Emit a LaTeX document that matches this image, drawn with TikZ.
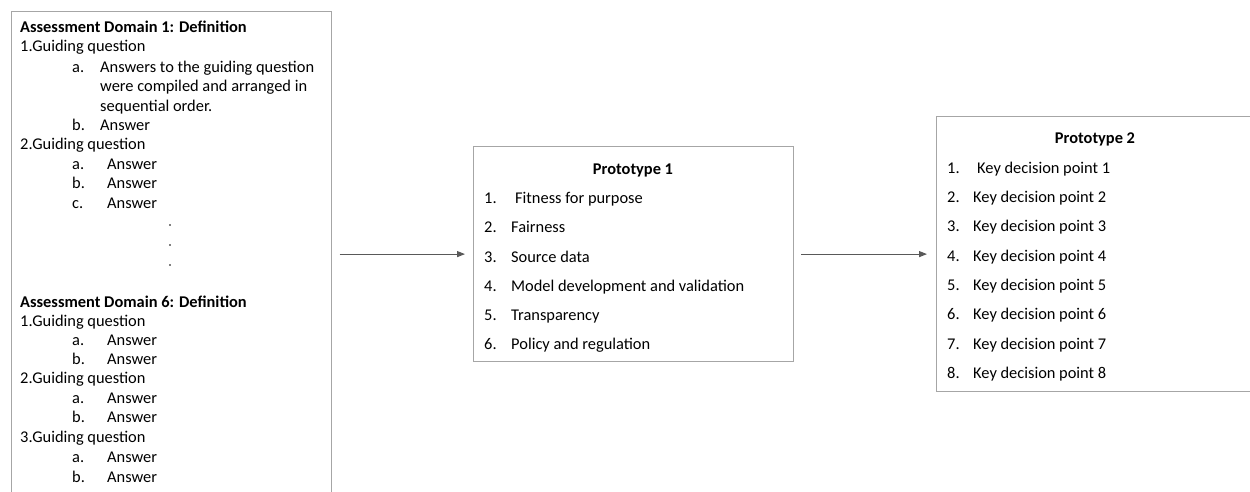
\documentclass[tikz,border=0pt]{standalone}
\usepackage{fontspec}
\setmainfont{Carlito}
\usetikzlibrary{arrows.meta,calc}
\definecolor{boxgray}{HTML}{A6A6A6}
\definecolor{arrgray}{HTML}{595959}
\tikzset{
  box/.style={draw=boxgray, line width=1.2pt, anchor=north west, inner sep=0pt},
  txt/.style={anchor=mid west, inner sep=0pt, yshift=-3.2pt, text=black, font=\fontsize{16.4}{19.5}\selectfont},
  head/.style={txt, font=\fontsize{16.4}{19.5}\selectfont\bfseries},
  ctitle/.style={anchor=mid, inner sep=0pt, yshift=-3.2pt, font=\fontsize{16.4}{19.5}\selectfont\bfseries},
  arr/.style={draw=arrgray, line width=1.1pt, -{Triangle[length=8pt,width=6pt]}},
  dotm/.style={circle, fill=black, inner sep=0pt, minimum size=1.8pt}
}
\begin{document}
\begin{tikzpicture}[x=1pt,y=-1pt]
\useasboundingbox (0,0) rectangle (1250,491);
\fill[white] (0,0) rectangle (1250,491);
% boxes
\node[box, minimum width=320pt, minimum height=495pt] (b1) at (10.5,11) {};
\node[box, minimum width=320pt, minimum height=215pt] (b2) at (473,146) {};
\node[box, minimum width=330pt, minimum height=275pt] (b3) at (936,116) {};
% left box text
\node[head] (h1) at (20,27) {Assessment Domain 1: Definition};
\node[txt] (g11) at (20,46) {1.Guiding question};
\node[txt] (l1a) at (72,67) {a.};
\node[txt] (t1a1) at (100,67) {Answers to the guiding question};
\node[txt] (t1a2) at (100,86) {were compiled and arranged in};
\node[txt] (t1a3) at (100,106) {sequential order.};
\node[txt] (l1b) at (72,125) {b.};
\node[txt] (t1b) at (100,125) {Answer};
\node[txt] (g12) at (20,144) {2.Guiding question};
\node[txt] (l2a) at (72,164) {a.};
\node[txt] (t2a) at (107,164) {Answer};
\node[txt] (l2b) at (72,183) {b.};
\node[txt] (t2b) at (107,183) {Answer};
\node[txt] (l2c) at (72,203) {c.};
\node[txt] (t2c) at (107,203) {Answer};
\node[dotm] (d1) at (170,225) {};
\node[dotm] (d2) at (170,245) {};
\node[dotm] (d3) at (170,265) {};
\node[head] (h6) at (20,302) {Assessment Domain 6: Definition};
\node[txt] (g61) at (20,321) {1.Guiding question};
\node[txt] (m1a) at (72,340) {a.};
\node[txt] (u1a) at (107,340) {Answer};
\node[txt] (m1b) at (72,359) {b.};
\node[txt] (u1b) at (107,359) {Answer};
\node[txt] (g62) at (20,378) {2.Guiding question};
\node[txt] (m2a) at (72,398) {a.};
\node[txt] (u2a) at (107,398) {Answer};
\node[txt] (m2b) at (72,417) {b.};
\node[txt] (u2b) at (107,417) {Answer};
\node[txt] (g63) at (20,437) {3.Guiding question};
\node[txt] (m3a) at (72,457) {a.};
\node[txt] (u3a) at (107,457) {Answer};
\node[txt] (m3b) at (72,477) {b.};
\node[txt] (u3b) at (107,477) {Answer};
% prototype 1
\node[ctitle] (p1t) at (633,169) {Prototype 1};
\node[txt] (p1n1) at (484,198) {1.};
\node[txt] (p1i1) at (515,198) {Fitness for purpose};
\node[txt] (p1n2) at (484,227) {2.};
\node[txt] (p1i2) at (511,227) {Fairness};
\node[txt] (p1n3) at (484,257) {3.};
\node[txt] (p1i3) at (511,257) {Source data};
\node[txt] (p1n4) at (484,286) {4.};
\node[txt] (p1i4) at (511,286) {Model development and validation};
\node[txt] (p1n5) at (484,315) {5.};
\node[txt] (p1i5) at (511,315) {Transparency};
\node[txt] (p1n6) at (484,344) {6.};
\node[txt] (p1i6) at (511,344) {Policy and regulation};
% prototype 2
\node[ctitle] (p2t) at (1095,138) {Prototype 2};
\node[txt] (p2n1) at (947,168) {1.};
\node[txt] (p2i1) at (977,168) {Key decision point 1};
\foreach \k/\yy in {2/197,3/226,4/256,5/285,6/314,7/344,8/373}{
  \node[txt] (p2n\k) at (947,\yy) {\k.};
  \node[txt] (p2i\k) at (973,\yy) {Key decision point \k};
}
% connectors
\draw[arr, shorten <=8pt, shorten >=8pt] (b1.east |- b2.center) -- (b2.west);
\draw[arr, shorten <=7pt, shorten >=9pt] (b2.east) -- (b3.west |- b2.east);
\end{tikzpicture}
\end{document}
